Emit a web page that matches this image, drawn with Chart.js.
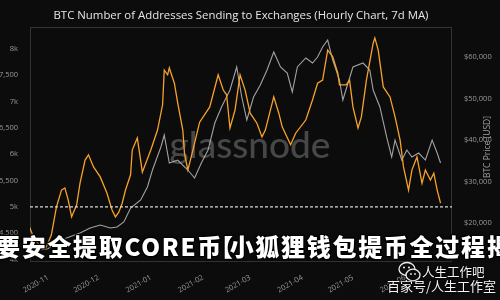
<!DOCTYPE html>
<html>
<head>
<meta charset="utf-8">
<script src="https://cdn.jsdelivr.net/npm/chart.js@4.4.1/dist/chart.umd.min.js"></script>
<style>
  html, body { margin: 0; padding: 0; background: #0c0c0c; overflow: hidden; }
  #wrap { position: relative; width: 500px; height: 300px; overflow: hidden; }
  #chart { position: absolute; left: 0; top: 0; }
  .banner {
    position: absolute; left: -4px; top: 231px; white-space: nowrap;
    font-family: 'Noto Sans CJK SC', sans-serif; font-weight: 900; font-size: 24px;
    line-height: 30px; letter-spacing: 1.7px; color: #fff;
    text-shadow: 1px 1px 0 #000, -1px -1px 0 #000, 1px -1px 0 #000, -1px 1px 0 #000, 0 0 4px #000;
  }
  .banner .br { margin-left: -14px; margin-right: -5px; }
  .wm1, .wm2 {
    position: absolute; white-space: nowrap; color: #f4f4f4;
    font-family: 'Noto Sans CJK SC', sans-serif; text-shadow: 0 0 2px #000, 0 0 1px #000;
  }
  .wm1 { left: 422px; top: 264px; font-size: 12.5px; line-height: 16px; }
  .wm2 { left: 387px; top: 277px; font-size: 13px; line-height: 17px; }
  .wechat { position: absolute; left: 398px; top: 261px; }
</style>
</head>
<body>
<div id="wrap">
  <canvas id="chart" width="500" height="300"></canvas>
  <div class="banner">要安全提取CORE币<span class="br">【</span>小狐狸钱包提币全过程揭</div>
  <svg class="wechat" width="24" height="22" viewBox="0 0 24 22">
    <ellipse cx="9" cy="8" rx="8" ry="6.5" fill="none" stroke="#eee" stroke-width="1.3"/>
    <ellipse cx="15" cy="14" rx="7" ry="5.8" fill="#0c0c0c" stroke="#eee" stroke-width="1.3"/>
    <circle cx="6" cy="6.5" r="1" fill="#eee"/><circle cx="11" cy="6.5" r="1" fill="#eee"/>
    <circle cx="13" cy="13" r="0.9" fill="#eee"/><circle cx="17" cy="13" r="0.9" fill="#eee"/>
  </svg>
  <div class="wm1">人生工作吧</div>
  <div class="wm2">百家号/人生工作室</div>
</div>
<script>
// days since 2020-11-01
const addrDays = [-11,-8,-5,-1,2,5,8,10,12,14,17,19,22,24,27,31,35,38,40,42,44,46,49,50,53,56,
  61,65,68,69,71,72,75,77,80,81,83,86,90,96,101,104,106,108,111,114,117,120,124,127,129,132,134,
  137,139,144,147,153,157,160,163,166,169,172,173,177,179,181,184,186,189,193,194,196,199,203,206,
  209,211,214,216,219,222,224,227,229,231,233];
const addrCounts = [4620,4370,4280,4240,4470,5000,5320,5360,5130,4810,5040,5450,5890,5990,5760,5570,
  5260,4940,4810,4900,5070,5320,5610,6080,6310,5660,6080,6460,6940,7600,7510,7640,7350,6970,6460,
  6020,5700,6080,6610,6900,7510,7220,7130,6500,6840,7510,7220,6780,6590,6330,6460,6840,7090,6780,
  6520,6180,6400,6650,7030,7350,7410,7980,7850,7540,7320,7320,7410,6900,6500,6710,7410,8110,8210,
  7980,7280,7090,6710,6270,5760,5320,5700,5950,5450,5700,5510,5640,5320,5070];

const priceDays = [-11,-5,0,5,11,19,25,31,37,41,45,49,55,59,62,67,69,72,77,83,87,91,95,99,103,108,
  112,115,118,122,126,130,134,138,142,145,148,153,157,160,163,166,169,173,175,181,187,191,193,197,
  201,204,206,210,213,216,220,224,228,231,233];
const priceUsd = [12900,13500,13800,15420,16380,17590,18800,19520,18800,19040,20240,23620,25540,
  28680,32770,38320,41210,34460,35180,32770,30850,34460,37590,44100,47960,52050,57600,50370,44820,
  50370,53260,56870,61210,57600,56150,51570,57600,59770,58560,60010,62420,64100,59280,54460,49640,
  57600,58560,56870,52050,47960,40730,35910,40000,35180,37590,35910,36870,35180,40000,36870,34460];

const monthTicks  = [0, 30, 61, 92, 120, 151, 181, 212];
const monthLabels = ['2020-11','2020-12','2021-01','2021-02','2021-03','2021-04','2021-05','2021-06'];
const addrTicks   = [4000,4500,5000,5500,6000,6500,7000,7500,8000];
const addrLabels  = ['4k','4,500','5k','5,500','6k','6,500','7k','7,500','8k'];
const priceTicks  = [20000,30000,40000,50000,60000];
const priceLabels = ['$20,000','$30,000','$40,000','$50,000','$60,000'];
const refLevel = 5000;

const TITLE = 'BTC Number of Addresses Sending to Exchanges (Hourly Chart, 7d MA)';
const TICK_FONT = { family: "'Open Sans', sans-serif", size: 7.5 };
const TICK_COLOR = '#9a9a9a';

const decor = {
  id: 'decor',
  beforeDraw(chart) {
    const c = chart.ctx;
    c.save();
    c.fillStyle = '#0c0c0c';
    c.fillRect(0, 0, chart.width, chart.height);
    c.restore();
  },
  beforeDatasetsDraw(chart) {
    const c = chart.ctx;
    c.save();
    c.fillStyle = 'rgba(120,120,120,0.55)';
    c.font = "500 37px Lato, 'Open Sans', sans-serif";
    c.textAlign = 'center';
    c.textBaseline = 'alphabetic';
    c.fillText('glassnode', 250, 158);
    c.restore();
  },
  afterDatasetsDraw(chart) {
    const { ctx: c, chartArea: a, scales } = chart;
    const y = scales.y.getPixelForValue(refLevel);
    c.save();
    c.strokeStyle = '#d8d8d8';
    c.lineWidth = 1.4;
    c.setLineDash([3, 2]);
    c.beginPath();
    c.moveTo(a.left, y);
    c.lineTo(a.right, y);
    c.stroke();
    c.setLineDash([]);
    c.strokeStyle = 'rgba(255,255,255,0.16)';
    c.lineWidth = 1;
    c.strokeRect(a.left + 0.5, a.top + 0.5, a.right - a.left - 1, a.bottom - a.top - 1);
    c.restore();
  },
  afterDraw(chart) {
    const c = chart.ctx;
    c.save();
    c.fillStyle = '#e6e6e6';
    c.font = "11.4px 'Open Sans', sans-serif";
    c.textAlign = 'center';
    c.textBaseline = 'middle';
    c.fillText(TITLE, 241, 16);
    c.translate(488, 147);
    c.rotate(-Math.PI / 2);
    c.fillStyle = '#a0a0a0';
    c.font = "8.5px 'Open Sans', sans-serif";
    c.fillText('BTC Price [USD]', 0, 0);
    c.restore();
  },
};

function fixTicks(values) {
  return scale => { scale.ticks = values.map(v => ({ value: v })); };
}

new Chart(document.getElementById('chart').getContext('2d'), {
  type: 'line',
  data: {
    datasets: [
      {
        label: 'Addresses',
        data: addrDays.map((d, i) => ({ x: d, y: addrCounts[i] })),
        borderColor: '#f7a22a',
        borderWidth: 1.3,
        pointRadius: 0,
        tension: 0,
        yAxisID: 'y',
        order: 1,
      },
      {
        label: 'BTC Price',
        data: priceDays.map((d, i) => ({ x: d, y: priceUsd[i] })),
        borderColor: 'rgba(200,200,200,0.8)',
        borderWidth: 1.1,
        pointRadius: 0,
        tension: 0,
        yAxisID: 'y2',
        order: 2,
      },
    ],
  },
  options: {
    responsive: false,
    animation: false,
    devicePixelRatio: 1,
    layout: { padding: { top: 27, left: 0, right: 0, bottom: 0 } },
    plugins: { legend: { display: false }, tooltip: { enabled: false } },
    scales: {
      x: {
        type: 'linear',
        min: -10.7,
        max: 239.8,
        grid: { display: false },
        border: { display: false },
        afterBuildTicks: fixTicks(monthTicks),
        afterFit: s => { s.height = 38; },
        ticks: {
          autoSkip: false, minRotation: 30, maxRotation: 30, padding: 3,
          font: TICK_FONT, color: TICK_COLOR,
          callback: (v, i) => monthLabels[i],
        },
      },
      y: {
        position: 'left',
        min: 3953,
        max: 8418,
        grid: { display: false },
        border: { display: false },
        afterBuildTicks: fixTicks(addrTicks),
        afterFit: s => { s.width = 30; },
        ticks: { padding: 4, font: TICK_FONT, color: TICK_COLOR, callback: (v, i) => addrLabels[i] },
      },
      y2: {
        position: 'right',
        min: 10600,
        max: 67240,
        grid: { display: false },
        border: { display: false },
        afterBuildTicks: fixTicks(priceTicks),
        afterFit: s => { s.width = 48; },
        ticks: { padding: 4, font: TICK_FONT, color: TICK_COLOR, callback: (v, i) => priceLabels[i] },
      },
    },
  },
  plugins: [decor],
});
</script>
</body>
</html>
